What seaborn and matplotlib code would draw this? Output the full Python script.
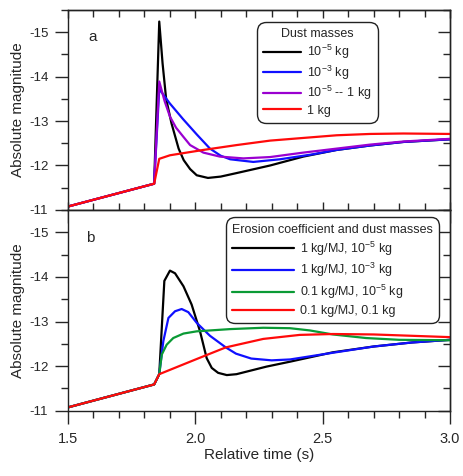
import numpy as np
import pandas as pd
import matplotlib
matplotlib.use("Agg")
import matplotlib.pyplot as plt
from matplotlib.ticker import MultipleLocator, FormatStrFormatter
import seaborn as sns

# ---- panel a: dust masses ----
A_BLACK_T = [1.5, 1.839, 1.859, 1.872, 1.886, 1.907, 1.935, 1.955, 1.98, 2.006, 2.05,
             2.1, 2.163, 2.294, 2.424, 2.555, 2.686, 2.817, 3.0]
A_BLACK_M = [-11.075, -11.59, -15.24, -14.3, -13.5, -12.95, -12.38, -12.12, -11.92, -11.78, -11.72,
             -11.75, -11.83, -12.0, -12.2, -12.35, -12.45, -12.53, -12.59]

A_BLUE_T = [1.5, 1.839, 1.859, 1.9, 1.953, 2.006, 2.058, 2.1, 2.137, 2.228, 2.333,
            2.46, 2.555, 2.686, 2.817, 3.0]
A_BLUE_M = [-11.075, -11.59, -13.72, -13.40, -13.04, -12.70, -12.38, -12.22, -12.14, -12.08, -12.14,
            -12.25, -12.35, -12.45, -12.53, -12.59]

A_PURPLE_T = [1.5, 1.839, 1.859, 1.88, 1.901, 1.925, 1.953, 1.98, 2.032, 2.097, 2.189,
              2.294, 2.424, 2.555, 2.686, 2.817, 3.0]
A_PURPLE_M = [-11.075, -11.59, -13.89, -13.45, -13.10, -12.85, -12.65, -12.46, -12.29, -12.20, -12.16,
              -12.19, -12.29, -12.38, -12.47, -12.54, -12.60]

A_RED_T = [1.5, 1.839, 1.859, 1.901, 2.032, 2.163, 2.294, 2.424, 2.555, 2.686, 2.817, 3.0]
A_RED_M = [-11.075, -11.59, -12.15, -12.23, -12.35, -12.46, -12.56, -12.62, -12.68, -12.71, -12.72, -12.71]

A_LABELS = ["10$^{-5}$ kg", "10$^{-3}$ kg", "10$^{-5}$ -- 1 kg", "1 kg"]

# ---- panel b: erosion coefficient and dust masses ----
B_BLACK_T = [1.5, 1.839, 1.859, 1.879, 1.901, 1.921, 1.954, 1.986, 2.019, 2.045, 2.065,
             2.09, 2.124, 2.162, 2.28, 2.372, 2.54, 2.7, 2.85, 3.0]
B_BLACK_M = [-11.075, -11.59, -11.82, -13.91, -14.14, -14.08, -13.79, -13.38, -12.78, -12.18, -11.96,
             -11.85, -11.80, -11.82, -11.99, -12.10, -12.31, -12.44, -12.53, -12.59]

B_BLUE_T = [1.5, 1.839, 1.859, 1.875, 1.895, 1.921, 1.947, 1.973, 2.006, 2.058, 2.12,
            2.16, 2.22, 2.3, 2.372, 2.54, 2.7, 2.85, 3.0]
B_BLUE_M = [-11.075, -11.59, -11.82, -12.56, -13.08, -13.23, -13.28, -13.21, -12.97, -12.68, -12.42,
            -12.28, -12.17, -12.13, -12.15, -12.30, -12.44, -12.53, -12.59]

B_GREEN_T = [1.5, 1.839, 1.859, 1.869, 1.888, 1.914, 1.954, 2.006, 2.137, 2.267, 2.372,
             2.45, 2.54, 2.67, 2.8, 3.0]
B_GREEN_M = [-11.075, -11.59, -11.82, -12.26, -12.48, -12.63, -12.73, -12.78, -12.83, -12.86, -12.85,
             -12.80, -12.71, -12.63, -12.59, -12.58]

B_RED_T = [1.5, 1.839, 1.859, 2.006, 2.12, 2.267, 2.41, 2.54, 2.7, 3.0]
B_RED_M = [-11.075, -11.59, -11.82, -12.16, -12.42, -12.61, -12.70, -12.72, -12.71, -12.65]

B_LABELS = ["1 kg/MJ, 10$^{-5}$ kg", "1 kg/MJ, 10$^{-3}$ kg",
            "0.1 kg/MJ, 10$^{-5}$ kg", "0.1 kg/MJ, 0.1 kg"]

BLACK, BLUE, PURPLE, RED, GREEN = "#000000", "#1010ff", "#9a00d0", "#ff0a0a", "#0a9a35"


def style_axis(ax, top_dir):
    ax.set_xlim(1.5, 3.0)
    ax.set_ylim(-11, -15.5)
    ax.xaxis.set_major_locator(MultipleLocator(0.5))
    ax.xaxis.set_minor_locator(MultipleLocator(0.1))
    ax.xaxis.set_major_formatter(FormatStrFormatter("%.1f"))
    ax.yaxis.set_major_locator(MultipleLocator(1))
    ax.yaxis.set_minor_locator(MultipleLocator(0.5))
    ax.yaxis.set_major_formatter(FormatStrFormatter("%d"))
    ax.tick_params(which="major", direction="out", length=9.5, width=1)
    ax.tick_params(which="minor", direction="out", length=5, width=1)
    ax.tick_params(axis="y", pad=4.5, labelsize=9.5)
    ax.tick_params(axis="x", pad=6, labelsize=10.5)
    for sp in ax.spines.values():
        sp.set_visible(True)
        sp.set_linewidth(1.0)
        sp.set_color("#222222")

    right = ax.secondary_yaxis("right")
    right.yaxis.set_major_locator(MultipleLocator(1))
    right.yaxis.set_minor_locator(MultipleLocator(0.5))
    right.tick_params(which="major", direction="in", length=9, width=1, labelright=False)
    right.tick_params(which="minor", direction="in", length=5, width=1)
    right.spines["right"].set_linewidth(1.0)

    top = ax.secondary_xaxis("top")
    top.xaxis.set_major_locator(MultipleLocator(0.5))
    top.xaxis.set_minor_locator(MultipleLocator(0.1))
    top.tick_params(which="major", direction=top_dir, length=6, width=1, labeltop=False)
    top.tick_params(which="minor", direction=top_dir, length=5, width=1)
    top.spines["top"].set_linewidth(1.0)


def draw_panel(ax, series, labels, title, handlelength, anchor, align, spacing):
    for (t, m, c), lab in zip(series, labels):
        df = pd.DataFrame({"t": t, "m": m})
        sns.lineplot(data=df, x="t", y="m", color=c, lw=1.6, label=lab,
                     estimator=None, sort=False, ax=ax)
    leg = ax.legend(title=title, loc="upper left", bbox_to_anchor=anchor,
                    fontsize=9, title_fontsize=9, handlelength=handlelength,
                    handletextpad=0.5, borderpad=0.5, labelspacing=spacing,
                    fancybox=True, framealpha=1, edgecolor="#222222",
                    borderaxespad=0, alignment=align)
    frame = leg.get_frame()
    frame.set_linewidth(1.0)
    frame.set_boxstyle("round,pad=0,rounding_size=0.7")
    ax.set_ylabel("Absolute magnitude", fontsize=11, labelpad=3)


sns.set_style("ticks")
plt.rcParams["font.family"] = ["Liberation Sans", "DejaVu Sans"]
plt.rcParams["axes.unicode_minus"] = False
plt.rcParams["mathtext.default"] = "regular"

fig = plt.figure(figsize=(4.64, 4.76), dpi=100)
ax_a = fig.add_axes([0.146, 0.559, 0.824, 0.420])
ax_b = fig.add_axes([0.146, 0.137, 0.824, 0.422])

draw_panel(ax_a,
           [(A_BLACK_T, A_BLACK_M, BLACK), (A_BLUE_T, A_BLUE_M, BLUE),
            (A_PURPLE_T, A_PURPLE_M, PURPLE), (A_RED_T, A_RED_M, RED)],
           A_LABELS, "Dust masses", 3.0, (0.495, 0.94), "center", 0.2)
draw_panel(ax_b,
           [(B_BLACK_T, B_BLACK_M, BLACK), (B_BLUE_T, B_BLUE_M, BLUE),
            (B_GREEN_T, B_GREEN_M, GREEN), (B_RED_T, B_RED_M, RED)],
           B_LABELS, "Erosion coefficient and dust masses", 4.9, (0.414, 0.963), "left", 0.3)

style_axis(ax_a, "in")
style_axis(ax_b, "out")
ax_a.set_xlabel("")
ax_a.tick_params(axis="x", labelbottom=False)
ax_b.set_xlabel("Relative time (s)", fontsize=11, labelpad=1)

ax_a.text(0.066, 0.865, "a", transform=ax_a.transAxes, fontsize=11, ha="center", va="center")
ax_b.text(0.06, 0.86, "b", transform=ax_b.transAxes, fontsize=11, ha="center", va="center")

fig.savefig("out.png", dpi=100)
